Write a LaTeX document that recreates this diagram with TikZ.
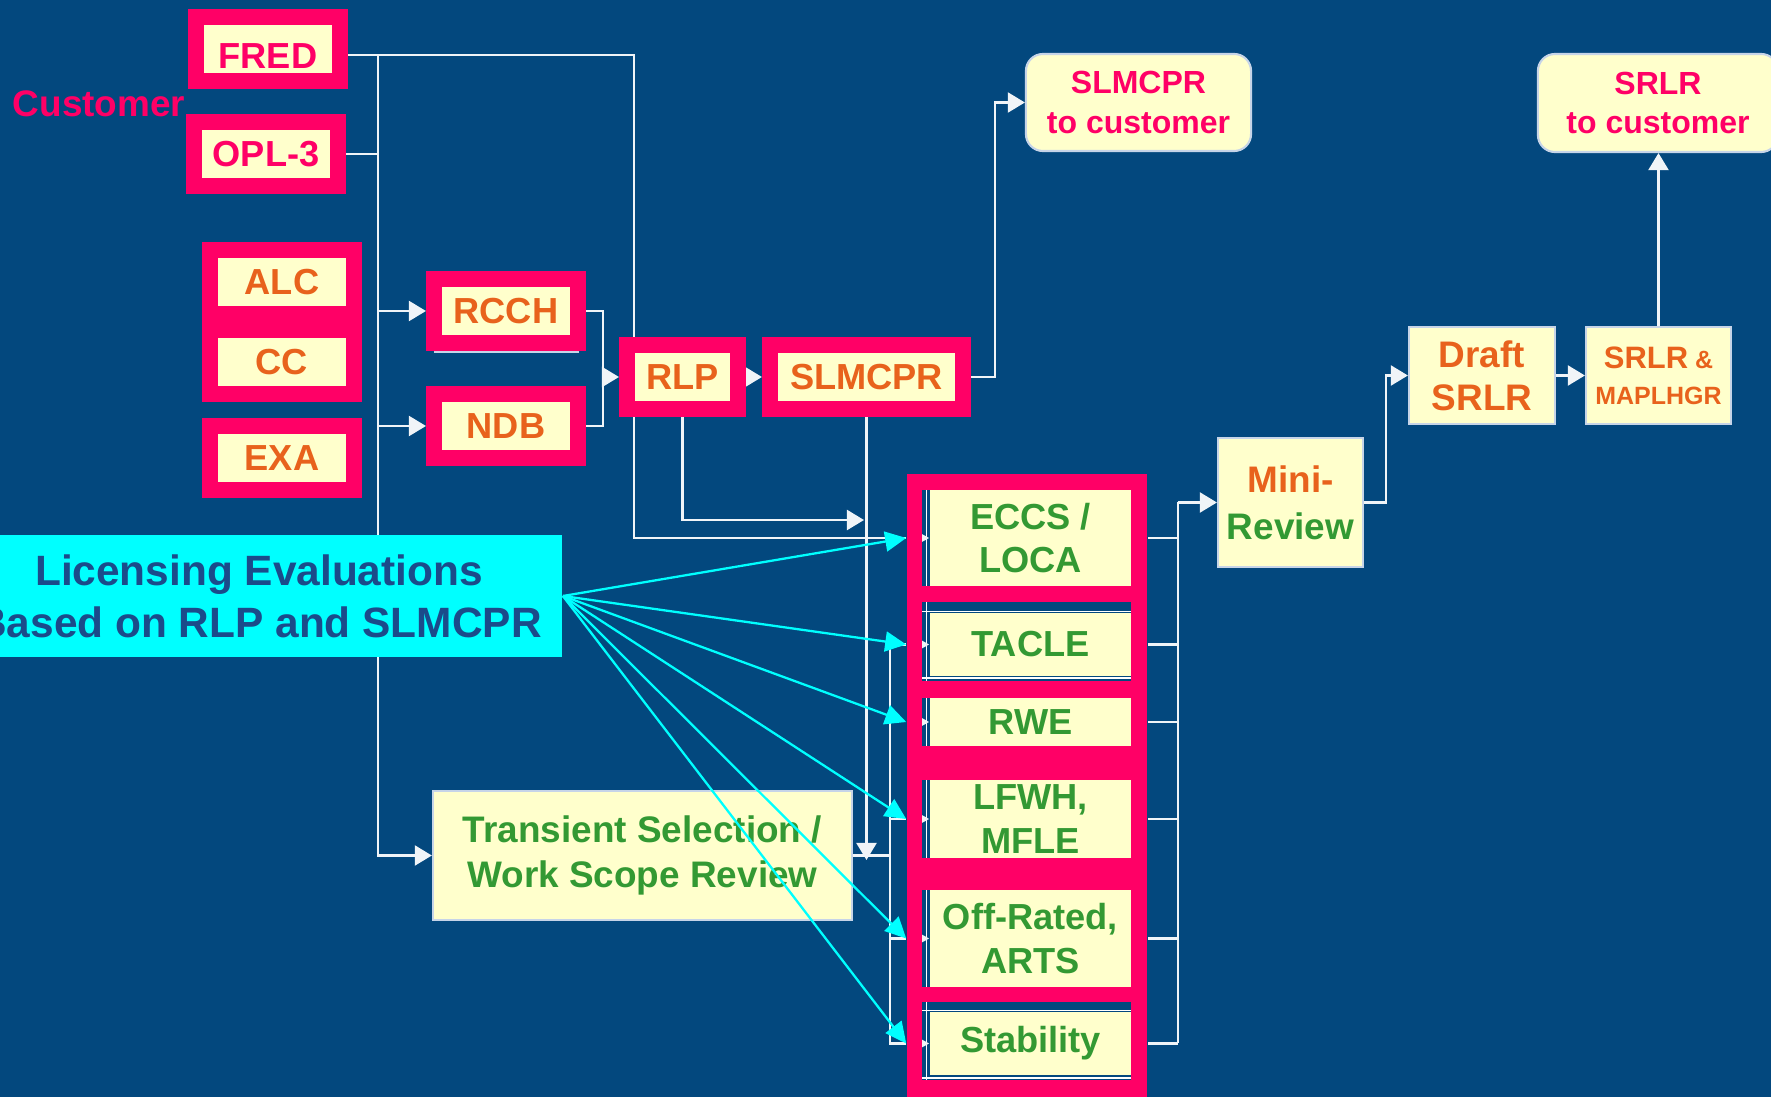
\documentclass[tikz,border=0pt]{standalone}
\usepackage{fontspec}
\setmainfont{Liberation Sans}
\usetikzlibrary{arrows.meta}

\definecolor{navy}{HTML}{03487E}
\definecolor{hot}{HTML}{FF0066}
\definecolor{cream}{HTML}{FFFFCC}
\definecolor{orng}{HTML}{E8621C}
\definecolor{grn}{HTML}{339933}
\definecolor{cyn}{HTML}{00FFFF}
\definecolor{ink}{HTML}{1B4B8A}
\definecolor{edgecol}{HTML}{C6D4E8}
\definecolor{wirecol}{HTML}{F0F4F8}

\pgfdeclarelayer{back}
\pgfdeclarelayer{wires}
\pgfsetlayers{back,wires,main}

\begin{document}
\begin{tikzpicture}[x=0.01cm, y=-0.01cm,
  lab/.style={font=\fontsize{10.3pt}{12.4pt}\selectfont\bfseries},
  redbox/.style={draw=hot, line width=0.16cm, fill=cream, inner sep=0pt,
    text=orng, lab, minimum width=1.44cm, minimum height=0.64cm},
  creambox/.style={fill=cream, inner sep=0pt, align=center, lab},
  plainbox/.style={creambox, draw=edgecol, line width=0.6pt},
  roundbox/.style={plainbox, rounded corners=0.17cm, text=hot,
    font=\fontsize{9.1pt}{11.1pt}\selectfont\bfseries},
  cbox/.style={creambox, text=grn, minimum width=2.01cm},
  well/.style={fill=navy},
  hair/.style={draw=white, line width=0.35pt},
  wire/.style={draw=wirecol, line width=0.6pt},
  arr/.style={wire, -{Triangle[length=0.17cm,width=0.2cm]}},
  tinytip/.style={wire, -{Triangle[length=0.07cm,width=0.07cm]}},
  cya/.style={draw=cyn, line width=0.65pt, -{Triangle[length=0.21cm,width=0.2cm]}},
]
\useasboundingbox (0,0) rectangle (1771,1097);
\begin{pgfonlayer}{back}
  \fill[navy] (0,0) rectangle (1771,1097);
\end{pgfonlayer}

% customer inputs
\node[text=hot, font=\fontsize{10.5pt}{12pt}\selectfont\bfseries] (cust) at (99,104) {Customer};
\node[redbox, text=hot, text height=0.39cm, text depth=0pt] (fred) at (268,49) {FRED};
\node[redbox, text=hot] (opl) at (266,154) {OPL-3};

% code inputs
\node[fill=hot, minimum width=1.6cm, minimum height=1.6cm, inner sep=0pt] (acblk) at (282,322) {};
\node[creambox, text=orng, minimum width=1.28cm, minimum height=0.48cm] (alc) at (282,282) {ALC};
\node[creambox, text=orng, minimum width=1.28cm, minimum height=0.48cm] (cc) at (282,362) {CC};
\node[redbox] (exa) at (282,458) {EXA};

\node[redbox] (rcch) at (506,311) {RCCH};
\draw[draw=edgecol, line width=0.5pt] ([xshift=0.08cm,yshift=-0.01cm]rcch.south west) -- ([xshift=-0.07cm,yshift=-0.01cm]rcch.south east);
\node[redbox] (ndb) at (506,426) {NDB};
\node[redbox, minimum width=1.11cm] (rlp) at (682.5,377) {RLP};
\node[redbox, minimum width=1.93cm] (slm) at (866.5,377) {SLMCPR};

% deliverables
\node[roundbox, minimum width=2.25cm, minimum height=0.97cm] (slc) at (1138.5,102.5) {SLMCPR\\to customer};
\node[roundbox, minimum width=2.40cm, minimum height=0.98cm] (src) at (1658,103) {SRLR\\to customer};

\node[plainbox, text=orng, minimum width=1.46cm, minimum height=0.97cm,
  font=\fontsize{10.5pt}{12.3pt}\selectfont\bfseries] (draft) at (1482,375.5) {Draft\\SRLR};
\node[plainbox, text=orng, minimum width=1.45cm, minimum height=0.97cm,
  font=\fontsize{7.1pt}{10.2pt}\selectfont\bfseries] (srm) at (1658.5,375.5)
  {{\fontsize{8.8pt}{10.2pt}\selectfont SRLR} \&\\MAPLHGR};
\node[plainbox, minimum width=1.45cm, minimum height=1.29cm,
  font=\fontsize{10.5pt}{13.4pt}\selectfont\bfseries] (mini) at (1290.5,502.5)
  {\textcolor{orng}{Mini-}\\\textcolor{grn}{Review}};

\node[plainbox, text=grn, minimum width=4.19cm, minimum height=1.29cm,
  font=\fontsize{10.5pt}{12.8pt}\selectfont\bfseries] (ts) at (642.5,855.5)
  {Transient Selection /\\Work Scope Review};

\node[fill=cyn, text=ink, inner sep=0pt, align=center, minimum width=6.06cm, minimum height=1.22cm,
  font=\fontsize{12.06pt}{14.8pt}\selectfont\bfseries] (lic) at (259,596)
  {Licensing Evaluations\\Based on RLP and SLMCPR};

% evaluation column
\node[fill=hot, minimum width=2.40cm, minimum height=6.30cm, inner sep=0pt] (col) at (1027,789) {};
\fill[well] (922,490) rectangle (1131,586);
\fill[well] (922,602) rectangle (1131,681);
\fill[well] (922,698) rectangle (1131,746);
\fill[well] (922,780) rectangle (1131,858);
\fill[well] (922,890) rectangle (1131,987);
\fill[well] (922,1002) rectangle (1131,1080);
\draw[hair] (926.5,490) -- (926.5,586);
\draw[hair] (926.5,602) -- (926.5,681);
\draw[hair] (926.5,698) -- (926.5,746);
\draw[hair] (926.5,780) -- (926.5,858);
\draw[hair] (926.5,890) -- (926.5,987);
\draw[hair] (926.5,1002) -- (926.5,1080);
\draw[hair] (922,611.5) -- (1131,611.5);
\draw[hair] (922,678) -- (1131,678);
\draw[hair] (922,1010.5) -- (1131,1010.5);
\draw[hair] (922,1078) -- (1131,1078);

\node[cbox, minimum height=0.96cm] (eccs) at (1030.5,538) {ECCS /\\LOCA};
\node[cbox, minimum height=0.62cm] (tacle) at (1030.5,644.5) {TACLE};
\node[cbox, minimum height=0.48cm] (rwe) at (1030.5,722) {RWE};
\node[cbox, minimum height=0.78cm] (lfwh) at (1030.5,819) {LFWH,\\MFLE};
\node[cbox, minimum height=0.97cm] (off) at (1030.5,938.5) {Off-Rated,\\ARTS};
\node[cbox, minimum height=0.63cm] (stab) at (1030.5,1043.5) {Stability};

\foreach \r in {eccs,tacle,rwe,lfwh,off,stab}
  \draw[tinytip] ([xshift=-0.07cm]\r.west) -- (\r.west);

% white connectors
\begin{pgfonlayer}{wires}
  \coordinate (trunk) at (378,55);
  \coordinate (fredx) at (634,55);
  \coordinate (mrg) at (603,377);
  \coordinate (up1) at (995,377);
  \coordinate (rlpend) at (864,520);
  \coordinate (slmend) at (866.5,860);
  \coordinate (lbus) at (890,0);
  \coordinate (rbus) at (1178,502.5);
  \coordinate (up2) at (1386,502.5);

  \draw[wire] (fred.east |- trunk) -- (fredx) -- (fredx |- eccs.west) -- (eccs.west -| col.west);
  \draw[arr] (trunk) |- (ts.west);
  \draw[wire] (opl.east) -- (opl.east -| trunk);
  \draw[arr] (rcch.west -| trunk) -- (rcch.west);
  \draw[arr] (ndb.west -| trunk) -- (ndb.west);
  \draw[wire] (rcch.east) -| (mrg) |- (ndb.east);
  \draw[arr] (mrg) -- (rlp.west);
  \draw[arr] (rlp.east) -- (slm.west);
  \draw[arr] (slm.east) -- (up1) |- (slc.west);
  \draw[arr] (rlp.south) |- (rlpend);
  \draw[arr] (slm.south) -- (slmend);

  \draw[wire] (ts.east) -- (ts.east -| lbus);
  \draw[wire] (tacle.west -| col.west) -- (tacle.west -| lbus) -- (stab.west -| lbus) -- (stab.west -| col.west);
  \draw[wire] (lfwh.west -| lbus) -- (lfwh.west -| col.west);
  \draw[wire] (off.west -| lbus) -- (off.west -| col.west);

  \foreach \r in {eccs,tacle,rwe,lfwh,off,stab}
    \draw[wire] (\r.east -| col.east) -- (\r.east -| rbus);
  \draw[wire] (rbus) -- (stab.east -| rbus);
  \draw[arr] (rbus) -- (mini.west);
  \draw[arr] (mini.east) -- (up2) |- (draft.west);
  \draw[arr] (draft.east) -- (srm.west);
  \draw[arr] (srm.north) -- (srm.north |- src.south);
\end{pgfonlayer}

% evaluation arrows
\foreach \r in {eccs,tacle,rwe,lfwh,off,stab}
  \draw[cya] (lic.east) -- (\r.west -| col.west);
\end{tikzpicture}
\end{document}
